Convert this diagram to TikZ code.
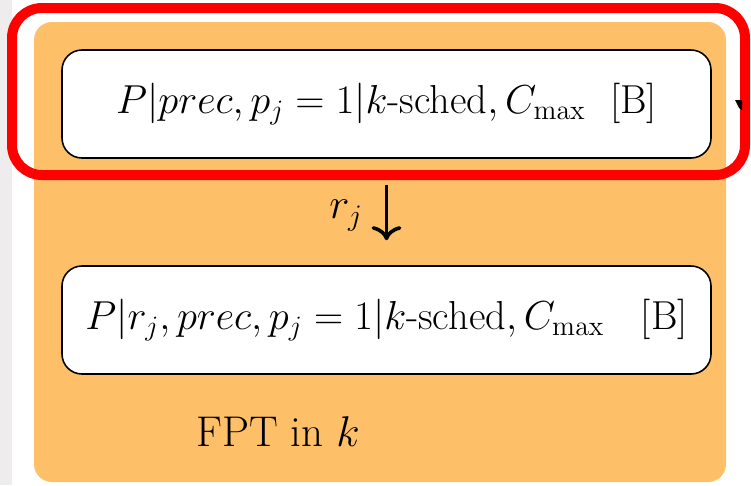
\documentclass[tikz,border=0pt]{standalone}
\usepackage{amsmath}
\usepackage{graphicx}
\usetikzlibrary{arrows.meta}
\definecolor{fptorange}{HTML}{FDC068}
\definecolor{sidegray}{HTML}{EEECEC}
\definecolor{ringred}{HTML}{FF0000}
% text is set at 20.74pt and enlarged to the wanted size
\newcommand{\probtext}[1]{\scalebox{1.11}{#1}}
\newcommand{\captext}[1]{\scalebox{1.18}{#1}}
\begin{document}
\begin{tikzpicture}[x=0.02cm,y=-0.02cm,
  bigtext/.style={font=\fontsize{20.74}{25}\selectfont},
  boxtext/.style={font=\fontsize{20.74}{25}\selectfont},
  probbox/.style={boxtext, draw=black, line width=0.9pt, fill=white, rounded corners=20*0.02cm,
    minimum width=649*0.02cm, minimum height=108*0.02cm, inner sep=0pt},
  region/.style={fill=fptorange, rounded corners=18*0.02cm},
  ring/.style={draw=ringred, line width=10*0.02cm, rounded corners=30*0.02cm},
  reduction/.style={line width=3.6*0.02cm, -{To[length=8pt,width=17pt]}}]
  % page background and margins
  \fill[white] (0,0) rectangle (751,485);
  \fill[sidegray] (0,0) rectangle (12,485);
  \useasboundingbox (0,0) rectangle (751,485);
  % FPT region
  \fill[region] (34,22) rectangle (726,482);
  % problem boxes
  \node[probbox] (top) at (386.5,104) {\probtext{$P|prec,p_j=1|k\text{-sched},C_{\max}$\ \ [B]}};
  \node[probbox] (bot) at (386.5,320) {\probtext{$P|r_j,prec,p_j=1|k\text{-sched},C_{\max}$\ \ \ [B]}};
  % reduction arrow
  \draw[reduction, shorten <=26*0.02cm, shorten >=25*0.02cm] (top) -- (bot)
    node[midway, left=9pt, bigtext, yshift=-2pt] (lbl) {\captext{$r_j$}};
  % region caption
  \node[bigtext] (fpt) at (278,432) {\captext{FPT in $k$}};
  % highlight ring
  \draw[ring] (12,8) rectangle (745,175);
  % edge of an outgoing arrow
  \fill[black] (735,100) -- (742,100) -- (742,110) -- (739,108) -- cycle;
\end{tikzpicture}
\end{document}
